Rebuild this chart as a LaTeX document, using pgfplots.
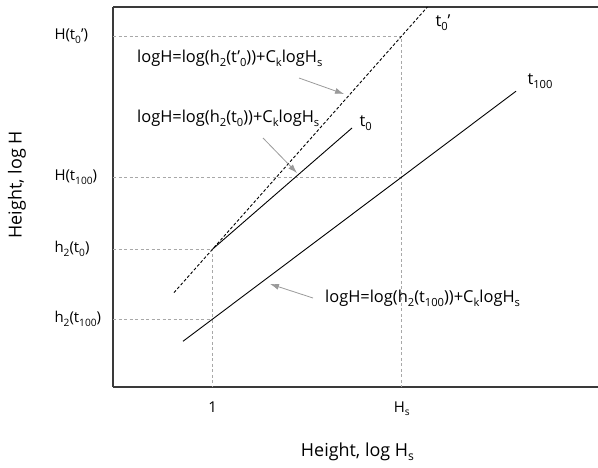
\documentclass[border=0pt]{standalone}
\usepackage{fontspec}
\setmainfont{Open Sans}
\usepackage{pgfplots}
\pgfplotsset{compat=1.18}
\usetikzlibrary{arrows.meta}

\definecolor{frame}{HTML}{3A3A3A}
\definecolor{guide}{HTML}{A8A8A8}
\definecolor{pointer}{HTML}{9A9A9A}
% subscripts set lower than \textsubscript, as in the reference
\newcommand\sub[1]{\raisebox{-0.45ex}{\fontsize{0.68\dimexpr\csname f@size\endcsname pt\relax}{1em}\selectfont #1}}

\begin{document}
\begin{tikzpicture}
\useasboundingbox (0,0) rectangle (598bp,468bp);
\begin{axis}[
    at={(113bp,81bp)}, anchor=south west,
    scale only axis, width=485bp, height=380bp,
    xmin=113, xmax=598, ymin=81, ymax=461,
    axis x line*=box, axis y line*=left,
    axis line style={frame, line width=1.8bp, -},
    major tick length=0pt,
    xtick={212.7,401.7}, xticklabels={1, H\sub{s}},
    ytick={149,219,291,432},
    yticklabels={h\sub{2}(t\sub{100}), h\sub{2}(t\sub{0}), H(t\sub{100}), H(t\sub{0}’)},
    xticklabel style={font=\fontsize{15}{18}\selectfont, yshift=-11bp},
    yticklabel style={font=\fontsize{15}{18}\selectfont, anchor=west, xshift=-62bp},
    xlabel={Height, log H\sub{s}},
    ylabel={Height, log H},
    label style={font=\fontsize{18}{21}\selectfont},
    xlabel style={at={(axis description cs:0.504,-0.171)}, anchor=center},
    ylabel style={at={(axis description cs:-0.198,0.532)}, anchor=center},
    guides/.style={guide, line width=0.8bp, dash pattern=on 3bp off 2.5bp},
  ]
  % guide lines to the axes
  \addplot[guides] coordinates {(113,432) (401.7,432) (401.7,81)};
  \addplot[guides] coordinates {(113,291) (401.7,291)};
  \addplot[guides] coordinates {(113,219) (212.7,219) (212.7,81)};
  \addplot[guides] coordinates {(113,149) (212.7,149)};
  % the three lines
  \addplot[black, line width=0.9bp, dash pattern=on 3bp off 2bp] coordinates {(174,175.4) (427.4,461)};
  \addplot[black, line width=0.9bp] coordinates {(212.7,219) (352,340)};
  \addplot[black, line width=0.9bp] coordinates {(183,126.7) (516,376.8)};

  \begin{scope}[font=\fontsize{16.5}{19}\selectfont]
  \node[anchor=west] at (axis cs:432,445) {t\sub{0}’};
  \node[anchor=west] at (axis cs:524,387) {t\sub{100}};
  \node[anchor=west] at (axis cs:356,345) {t\sub{0}};
  \node[anchor=west, inner sep=0pt] at (axis cs:137,410) {logH=log(h\sub{2}(t’\sub{0}))+C\sub{k}logH\sub{s}};
  \node[anchor=west, inner sep=0pt] at (axis cs:137,350) {logH=log(h\sub{2}(t\sub{0}))+C\sub{k}logH\sub{s}};
  \node[anchor=west, inner sep=0pt] at (axis cs:325,170) {logH=log(h\sub{2}(t\sub{100}))+C\sub{k}logH\sub{s}};
  \end{scope}
  \begin{scope}[pointer, line width=0.8bp, -{Latex[length=9bp,width=6bp]}]
  \draw (axis cs:299,390) -- (axis cs:344,374);
  \draw (axis cs:263,330) -- (axis cs:297,295);
  \draw (axis cs:313,170) -- (axis cs:270,184);
  \end{scope}
\end{axis}
\end{tikzpicture}
\end{document}
